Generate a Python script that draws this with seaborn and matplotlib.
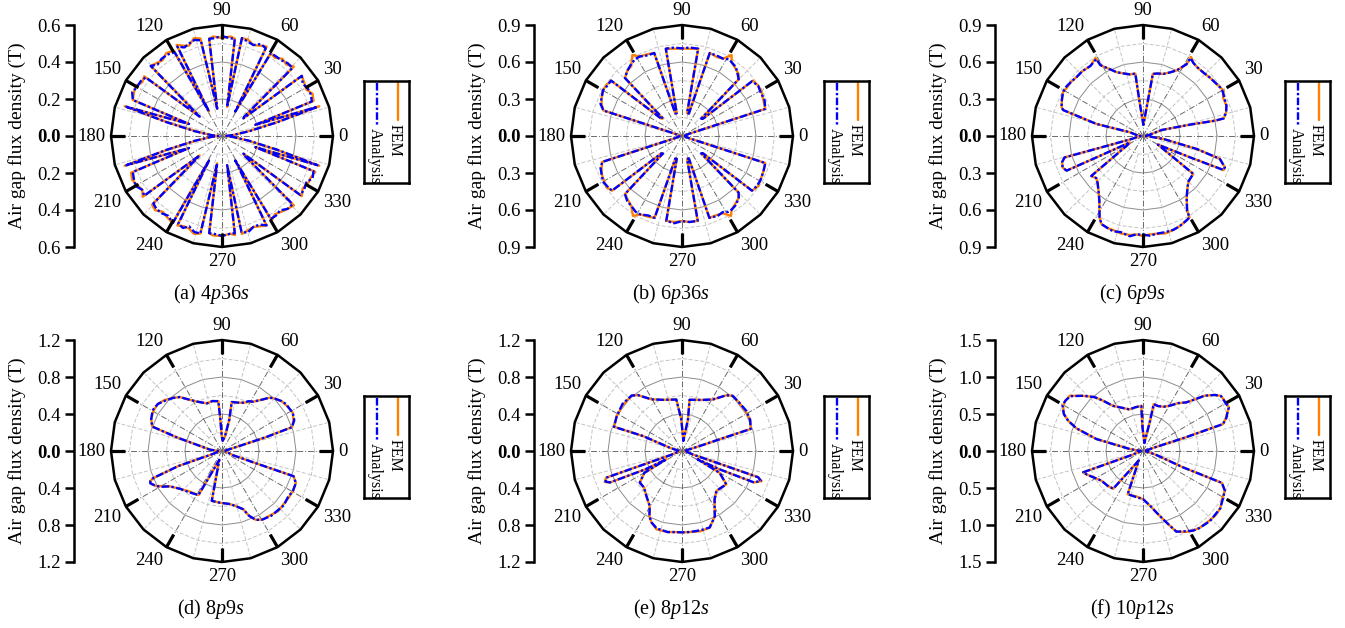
import numpy as np
import pandas as pd
import matplotlib
matplotlib.use("Agg")
import matplotlib.pyplot as plt
import seaborn as sns

sns.set_theme(style="white", rc={"axes.edgecolor": "black", "text.color": "black",
                                 "xtick.color": "black", "ytick.color": "black",
                                 "axes.labelcolor": "black"})
plt.rcParams["font.family"] = ["Liberation Serif", "DejaVu Serif"]
plt.rcParams["mathtext.fontset"] = "custom"
plt.rcParams["mathtext.rm"] = "Liberation Serif"
plt.rcParams["mathtext.it"] = "Liberation Serif:italic"

# ---- data: angle (deg) / air gap flux density (T) ----
# (a) 4p36s
theta_a = [0, 5, 10, 14, 17, 18.5, 21, 25, 29, 33, 37, 39.5, 41, 44, 48, 52, 56, 59.5, 61.5, 63.5,
           67, 71, 75, 78.5, 80, 82.5, 85, 90, 95, 97.5, 100, 102.5, 106, 110, 113, 116.5, 118, 119.5,
           124, 128, 132, 135.5, 139, 142.5, 146, 150, 154, 158, 160, 163, 166, 170, 175, 180,
           185, 190, 194, 197, 200, 202, 206, 210, 214, 217.5, 221, 224.5, 228, 232, 236, 240.5, 242,
           243.5, 247, 250, 254, 257.5, 260, 262.5, 265, 270, 275, 277.5, 280, 281.5, 285, 289, 293,
           296.5, 298.5, 300.5, 304, 308, 312, 316, 319, 320.5, 323, 327, 331, 335, 339, 341.5, 343,
           346, 350, 355, 360]
fem_a = [0.02, 0.06, 0.14, 0.30, 0.55, 0.19, 0.53, 0.54, 0.52, 0.53, 0.54, 0.15, 0.16, 0.54, 0.52, 0.53,
         0.51, 0.52, 0.15, 0.54, 0.53, 0.52, 0.54, 0.54, 0.16, 0.53, 0.54, 0.53, 0.54, 0.53, 0.15, 0.54,
         0.55, 0.52, 0.53, 0.55, 0.15, 0.53, 0.54, 0.52, 0.53, 0.54, 0.16, 0.53, 0.52, 0.54, 0.53, 0.52,
         0.19, 0.55, 0.30, 0.14, 0.06, 0.02,
         0.06, 0.14, 0.30, 0.55, 0.19, 0.53, 0.54, 0.53, 0.52, 0.54, 0.16, 0.53, 0.54, 0.52, 0.53, 0.54,
         0.15, 0.54, 0.53, 0.53, 0.55, 0.54, 0.15, 0.53, 0.54, 0.54, 0.53, 0.54, 0.16, 0.54, 0.53, 0.52,
         0.53, 0.54, 0.15, 0.53, 0.51, 0.52, 0.53, 0.54, 0.16, 0.15, 0.54, 0.52, 0.53, 0.53, 0.54, 0.19,
         0.55, 0.30, 0.14, 0.06, 0.02]
ana_a = [0.02, 0.06, 0.15, 0.31, 0.54, 0.19, 0.52, 0.53, 0.53, 0.52, 0.54, 0.15, 0.16, 0.53, 0.53, 0.52,
         0.52, 0.52, 0.15, 0.53, 0.54, 0.52, 0.53, 0.54, 0.16, 0.53, 0.53, 0.54, 0.53, 0.53, 0.15, 0.53,
         0.54, 0.53, 0.52, 0.54, 0.15, 0.52, 0.53, 0.53, 0.52, 0.54, 0.16, 0.52, 0.53, 0.53, 0.54, 0.52,
         0.19, 0.54, 0.31, 0.15, 0.06, 0.02,
         0.06, 0.15, 0.31, 0.54, 0.19, 0.52, 0.53, 0.54, 0.52, 0.53, 0.16, 0.52, 0.53, 0.53, 0.52, 0.54,
         0.15, 0.53, 0.54, 0.52, 0.54, 0.54, 0.15, 0.53, 0.53, 0.54, 0.53, 0.53, 0.16, 0.53, 0.54, 0.52,
         0.52, 0.54, 0.15, 0.52, 0.52, 0.51, 0.53, 0.53, 0.16, 0.15, 0.53, 0.53, 0.52, 0.54, 0.53, 0.19,
         0.54, 0.31, 0.15, 0.06, 0.02]

# (b) 6p36s
theta_b = [0, 10, 17.5, 18, 23.5, 29.5, 33.5, 38, 39.5, 42, 45, 47.5, 52, 56, 58.5, 62, 66, 71.5, 73,
           77.5, 79.5, 85, 90, 95, 100.5, 103, 106.5, 108.5, 113, 118, 121.5, 126, 130, 134.5, 137.5,
           140, 142, 146, 150, 155, 158.5, 162, 162.5, 170, 180,
           190, 197.5, 198, 201.5, 205, 210, 214, 218, 220, 222.5, 225.5, 230, 234, 238.5, 242, 247,
           251.5, 253.5, 257, 259.5, 265, 270, 275, 280.5, 282.5, 287, 288.5, 294, 298, 301.5, 304,
           308, 312.5, 315, 318, 320.5, 322, 326.5, 330.5, 336.5, 342, 342.5, 350, 360]
fem_b = [0.02, 0.03, 0.06, 0.71, 0.72, 0.74, 0.74, 0.73, 0.22, 0.21, 0.65, 0.68, 0.70, 0.72, 0.77, 0.71,
         0.70, 0.71, 0.19, 0.19, 0.72, 0.71, 0.71, 0.71, 0.72, 0.19, 0.19, 0.71, 0.72, 0.73, 0.77, 0.70,
         0.69, 0.66, 0.21, 0.22, 0.73, 0.74, 0.74, 0.72, 0.70, 0.67, 0.06, 0.03, 0.02,
         0.03, 0.06, 0.68, 0.70, 0.72, 0.73, 0.74, 0.72, 0.22, 0.21, 0.66, 0.68, 0.70, 0.76, 0.72, 0.71,
         0.70, 0.19, 0.19, 0.70, 0.70, 0.69, 0.70, 0.70, 0.19, 0.19, 0.70, 0.70, 0.71, 0.76, 0.72, 0.70,
         0.68, 0.65, 0.21, 0.22, 0.72, 0.74, 0.73, 0.72, 0.71, 0.06, 0.03, 0.02]
ana_b = [0.02, 0.03, 0.06, 0.71, 0.73, 0.73, 0.74, 0.72, 0.22, 0.21, 0.65, 0.67, 0.71, 0.72, 0.73, 0.71,
         0.71, 0.71, 0.19, 0.19, 0.72, 0.72, 0.71, 0.72, 0.72, 0.19, 0.19, 0.71, 0.71, 0.73, 0.73, 0.71,
         0.69, 0.66, 0.21, 0.22, 0.73, 0.73, 0.74, 0.72, 0.71, 0.67, 0.06, 0.03, 0.02,
         0.03, 0.06, 0.68, 0.71, 0.72, 0.74, 0.73, 0.72, 0.22, 0.21, 0.66, 0.69, 0.70, 0.72, 0.72, 0.70,
         0.70, 0.19, 0.19, 0.70, 0.71, 0.69, 0.70, 0.70, 0.19, 0.19, 0.70, 0.71, 0.70, 0.72, 0.72, 0.71,
         0.68, 0.65, 0.21, 0.22, 0.72, 0.73, 0.73, 0.72, 0.71, 0.06, 0.03, 0.02]

# (c) 6p9s
theta_c = [0, 10, 17.8, 13.6, 12, 12.3, 15.8, 20, 25.7, 29.2, 32, 35.6, 41, 46.5, 52, 55.5, 58.6, 58.8,
           62.7, 67, 71.8, 77, 81, 82, 88, 96, 97, 101.8, 107, 112.5, 116, 121, 121.3, 127, 133, 138.5,
           143, 147.5, 151.3, 156, 160.6, 162, 165.5, 164, 172, 180,
           185, 194.8, 195.3, 195.3, 198, 201.5, 204.4, 204.7, 206, 210.6, 217.7, 222, 226, 230.7,
           235.8, 242, 244.8, 249, 252.6, 257, 262.5, 266, 270, 274, 278, 283, 287.8, 292, 297.3, 299.7,
           300.7, 305.5, 311, 315.4, 323, 330, 335.6, 337.1, 339.1, 343.4, 346.4, 351.6, 356, 360]
fem_c = [0.02, 0.05, 0.16, 0.39, 0.60, 0.67, 0.70, 0.72, 0.72, 0.75, 0.74, 0.73, 0.72, 0.71, 0.71, 0.72,
         0.75, 0.68, 0.60, 0.56, 0.53, 0.52, 0.51, 0.30, 0.09, 0.30, 0.51, 0.51, 0.53, 0.56, 0.60, 0.67,
         0.74, 0.71, 0.72, 0.72, 0.73, 0.73, 0.74, 0.72, 0.70, 0.68, 0.39, 0.11, 0.05, 0.02,
         0.03, 0.10, 0.39, 0.66, 0.69, 0.70, 0.68, 0.41, 0.12, 0.15, 0.53, 0.51, 0.53, 0.57, 0.63, 0.75,
         0.79, 0.80, 0.80, 0.81, 0.81, 0.80, 0.81, 0.80, 0.80, 0.81, 0.80, 0.79, 0.77, 0.76, 0.70, 0.61,
         0.55, 0.52, 0.51, 0.14, 0.42, 0.71, 0.71, 0.65, 0.45, 0.17, 0.05, 0.02]
ana_c = [0.02, 0.05, 0.16, 0.39, 0.60, 0.67, 0.70, 0.72, 0.73, 0.74, 0.74, 0.73, 0.72, 0.71, 0.71, 0.72,
         0.74, 0.68, 0.60, 0.56, 0.53, 0.52, 0.51, 0.30, 0.09, 0.30, 0.51, 0.51, 0.53, 0.56, 0.60, 0.67,
         0.73, 0.71, 0.72, 0.72, 0.73, 0.74, 0.74, 0.72, 0.70, 0.68, 0.39, 0.11, 0.05, 0.02,
         0.03, 0.10, 0.39, 0.66, 0.69, 0.70, 0.68, 0.41, 0.12, 0.15, 0.53, 0.51, 0.53, 0.57, 0.63, 0.75,
         0.79, 0.80, 0.81, 0.80, 0.82, 0.80, 0.80, 0.81, 0.80, 0.80, 0.80, 0.79, 0.77, 0.76, 0.70, 0.61,
         0.55, 0.52, 0.51, 0.14, 0.42, 0.71, 0.71, 0.65, 0.45, 0.17, 0.05, 0.02]

# (d) 8p9s
theta_d = [0, 10, 16.5, 17.5, 18.8, 23.2, 28.5, 32.7, 36, 39.9, 45.5, 48.4, 52.3, 57.8, 62, 66.3, 72,
           78.8, 77, 78.4, 86.4, 91, 93, 94.2, 101, 107.7, 117, 124.2, 128, 132.6, 138.4, 143.7, 149.6,
           155.6, 160.7, 163.2, 173.7, 180,
           185, 198, 199, 201.5, 202.8, 204.2, 207.8, 211, 214.2, 222.1, 231.6, 241.9, 253, 258.4,
           267.8, 278.6, 284.8, 290, 292.7, 296.2, 300.4, 307.2, 313.1, 318.6, 325, 330.7, 336.6,
           340.6, 340.2, 339, 350, 360]
fem_d = [0.03, 0.05, 0.24, 0.50, 0.80, 0.84, 0.87, 0.86, 0.85, 0.84, 0.80, 0.77, 0.70, 0.63, 0.60, 0.57,
         0.55, 0.54, 0.35, 0.16, 0.11, 0.16, 0.34, 0.54, 0.55, 0.54, 0.60, 0.68, 0.74, 0.78, 0.83, 0.86,
         0.86, 0.84, 0.80, 0.51, 0.13, 0.03,
         0.03, 0.10, 0.50, 0.80, 0.84, 0.85, 0.81, 0.74, 0.68, 0.61, 0.56, 0.54, 0.10, 0.55, 0.56, 0.58,
         0.62, 0.67, 0.76, 0.83, 0.86, 0.87, 0.89, 0.88, 0.88, 0.88, 0.87, 0.82, 0.44, 0.13, 0.05, 0.03]
ana_d = [0.03, 0.05, 0.24, 0.50, 0.80, 0.85, 0.87, 0.86, 0.86, 0.84, 0.80, 0.77, 0.70, 0.63, 0.61, 0.57,
         0.55, 0.54, 0.35, 0.16, 0.11, 0.16, 0.34, 0.54, 0.55, 0.54, 0.60, 0.68, 0.74, 0.78, 0.82, 0.86,
         0.87, 0.84, 0.80, 0.51, 0.13, 0.03,
         0.03, 0.10, 0.50, 0.80, 0.84, 0.85, 0.81, 0.75, 0.68, 0.61, 0.57, 0.54, 0.10, 0.55, 0.56, 0.58,
         0.62, 0.67, 0.76, 0.83, 0.86, 0.88, 0.88, 0.89, 0.87, 0.88, 0.87, 0.82, 0.44, 0.13, 0.05, 0.03]

# (e) 8p12s
theta_e = [0, 10, 15.8, 17.5, 17.8, 24.5, 31.9, 40, 47.5, 51.5, 59, 69.2, 81.6, 79.3, 82.4, 91.2, 96.3,
           110.4, 120.7, 128.3, 132.3, 141.7, 151.9, 160.4, 159, 164.9, 172, 180,
           185, 195, 199.5, 199.4, 199.4, 201.8, 203.6, 206.5, 208, 210.1, 216.8, 224, 231.6, 239.6,
           243.5, 246.9, 251.9, 260, 265, 270.7, 276, 283, 289.9, 296.7, 299.3, 304, 310.7, 317, 323,
           329.9, 332, 334, 336.4, 339.3, 341, 341.2, 342, 352, 360]
fem_e = [0.03, 0.05, 0.20, 0.50, 0.78, 0.81, 0.81, 0.81, 0.81, 0.77, 0.65, 0.59, 0.56, 0.35, 0.11, 0.34,
         0.56, 0.59, 0.65, 0.77, 0.81, 0.81, 0.80, 0.78, 0.45, 0.14, 0.05, 0.03,
         0.03, 0.06, 0.12, 0.50, 0.87, 0.90, 0.85, 0.45, 0.19, 0.47, 0.57, 0.57, 0.62, 0.69, 0.79, 0.84,
         0.89, 0.89, 0.88, 0.88, 0.88, 0.89, 0.88, 0.79, 0.72, 0.63, 0.57, 0.58, 0.60, 0.47, 0.19, 0.45,
         0.85, 0.92, 0.87, 0.50, 0.12, 0.05, 0.03]
ana_e = [0.03, 0.05, 0.20, 0.50, 0.78, 0.81, 0.82, 0.81, 0.81, 0.77, 0.65, 0.59, 0.56, 0.35, 0.11, 0.34,
         0.56, 0.59, 0.65, 0.77, 0.81, 0.82, 0.80, 0.78, 0.45, 0.14, 0.05, 0.03,
         0.03, 0.06, 0.12, 0.50, 0.87, 0.89, 0.85, 0.45, 0.19, 0.47, 0.57, 0.57, 0.62, 0.69, 0.79, 0.84,
         0.88, 0.89, 0.88, 0.88, 0.88, 0.88, 0.88, 0.79, 0.72, 0.63, 0.57, 0.58, 0.60, 0.47, 0.19, 0.45,
         0.85, 0.91, 0.87, 0.50, 0.12, 0.05, 0.03]

# (f) 10p12s
theta_f = [0, 10, 17, 17.7, 18.6, 21.5, 25.4, 26.9, 30.3, 35.2, 38, 41.9, 44.3, 48.3, 53.9, 59.5, 65,
           71.7, 77.1, 76.9, 80.5, 91.5, 92.1, 100, 107.9, 118.1, 123.5, 128.5, 132, 137.3, 143, 147,
           150.5, 155, 158, 161.2, 165.6, 171.5, 180,
           185, 192, 199.6, 199.6, 199.6, 203, 207.8, 215.5, 224.7, 231.7, 246, 250.5, 255, 261.6, 270,
           277, 282.3, 286.4, 289.7, 292.5, 298.2, 302.1, 306.2, 313.7, 318.6, 323.5, 328.8, 334.1,
           338, 337.8, 343.3, 352, 360]
fem_f = [0.03, 0.05, 0.15, 0.59, 1.14, 1.20, 1.27, 1.30, 1.30, 1.29, 1.23, 1.12, 1.01, 0.88, 0.80, 0.71,
         0.66, 0.64, 0.65, 0.40, 0.11, 0.34, 0.61, 0.60, 0.59, 0.67, 0.73, 0.87, 0.98, 1.10, 1.24, 1.25,
         1.24, 1.18, 1.09, 0.95, 0.65, 0.18, 0.03,
         0.03, 0.06, 0.15, 0.50, 0.86, 0.82, 0.76, 0.69, 0.67, 0.65, 0.14, 0.62, 0.62, 0.62, 0.65, 0.74,
         0.85, 0.96, 1.07, 1.18, 1.24, 1.27, 1.29, 1.30, 1.31, 1.30, 1.25, 1.23, 1.15, 0.58, 0.19, 0.06,
         0.03]
ana_f = [0.03, 0.05, 0.15, 0.59, 1.14, 1.21, 1.27, 1.30, 1.29, 1.29, 1.23, 1.12, 1.01, 0.88, 0.80, 0.71,
         0.66, 0.64, 0.65, 0.40, 0.11, 0.34, 0.61, 0.60, 0.59, 0.67, 0.73, 0.87, 0.98, 1.10, 1.23, 1.25,
         1.25, 1.18, 1.09, 0.95, 0.65, 0.18, 0.03,
         0.03, 0.06, 0.15, 0.50, 0.86, 0.82, 0.76, 0.69, 0.67, 0.65, 0.14, 0.62, 0.62, 0.63, 0.65, 0.74,
         0.85, 0.96, 1.07, 1.18, 1.23, 1.27, 1.29, 1.31, 1.30, 1.30, 1.26, 1.23, 1.15, 0.58, 0.19, 0.06,
         0.03]

r_limits = [0.6, 0.9, 0.9, 1.2, 1.2, 1.5]
captions = [("(a)", "4", "36"), ("(b)", "6", "36"), ("(c)", "6", "9"),
            ("(d)", "8", "9"), ("(e)", "8", "12"), ("(f)", "10", "12")]
series = [(theta_a, fem_a, ana_a), (theta_b, fem_b, ana_b), (theta_c, fem_c, ana_c),
          (theta_d, fem_d, ana_d), (theta_e, fem_e, ana_e), (theta_f, fem_f, ana_f)]

# ---- layout (pixels) ----
W, H = 1345, 628
R = 111
col_x = [222, 682, 1143]
row_y = [136, 451]
FEM_COLOR = "#ff8000"
ANA_COLOR = "#0000ff"
ANA_DASH = (3.2, 1.0, 1.0, 1.0)

fig = plt.figure(figsize=(W / 100, H / 100), dpi=100)


def draw_panel(cx, cy, rmax, theta, fem, ana, cap):
    # polar plot
    ax = fig.add_axes([(cx - R) / W, 1 - (cy + R) / H, 2 * R / W, 2 * R / H], projection="polar")
    ring = np.deg2rad(np.arange(0, 361, 15))
    for k in range(1, 6):
        if k % 2 == 0:
            ax.plot(ring, np.full(ring.size, rmax * k / 6), color="#8c8c8c", lw=0.7, zorder=1)
        else:
            ax.plot(ring, np.full(ring.size, rmax * k / 6), color="#c4c4c4", lw=0.7,
                    ls=(0, (4, 2)), zorder=1)
    for a in range(0, 360, 15):
        t = np.deg2rad(a)
        if a % 30 == 0:
            ax.plot([t, t], [0, rmax], color="#6a6a6a", lw=0.7, ls=(0, (6, 2, 1, 2)), zorder=1)
        else:
            ax.plot([t, t], [rmax / 6, rmax], color="#c4c4c4", lw=0.7, ls=(0, (4, 2)), zorder=1)

    n = len(theta)
    df = pd.DataFrame({"theta": np.deg2rad(np.r_[theta, theta]),
                       "B": np.r_[fem, ana],
                       "Method": ["FEM"] * n + ["Analysis"] * n})
    sns.lineplot(data=df, x="theta", y="B", hue="Method", style="Method",
                 hue_order=["FEM", "Analysis"], style_order=["FEM", "Analysis"],
                 palette={"FEM": FEM_COLOR, "Analysis": ANA_COLOR},
                 dashes={"FEM": "", "Analysis": ANA_DASH},
                 sort=False, estimator=None, legend=False, linewidth=1.7, ax=ax, zorder=3)

    ax.plot(ring, np.full(ring.size, rmax), color="black", lw=1.8, clip_on=False, zorder=4)
    for a in range(0, 360, 30):
        t = np.deg2rad(a)
        ax.plot([t, t], [0.87 * rmax, rmax], color="black", lw=2.3, solid_capstyle="butt",
                clip_on=False, zorder=4)
        c, s = np.cos(t), np.sin(t)
        ha = "left" if c > 0.3 else ("right" if c < -0.3 else "center")
        va = "bottom" if s > 0.3 else ("top" if s < -0.3 else "center")
        ax.text(t, 1.05 * rmax, str(a), ha=ha, va=va, fontsize=13.5)
    ax.set_ylim(0, rmax)
    ax.grid(False)
    ax.set_xticks([])
    ax.set_yticks([])
    ax.spines["polar"].set_visible(False)
    ax.set_xlabel("")
    ax.set_ylabel("")

    # left linear scale
    lax = fig.add_axes([(cx - 148) / W, 1 - (cy + R) / H, 0.5 / W, 2 * R / H])
    lax.set_ylim(-rmax, rmax)
    ticks = np.linspace(-rmax, rmax, 7)
    lax.set_yticks(ticks)
    lax.set_yticklabels([f"{abs(v):.1f}" for v in ticks])
    lax.get_yticklabels()[3].set_fontweight("bold")
    for side in ["top", "right", "bottom"]:
        lax.spines[side].set_visible(False)
    lax.spines["left"].set_linewidth(1.8)
    lax.set_xticks([])
    lax.tick_params(axis="y", left=True, direction="out", length=6.5, width=1.8,
                    labelsize=13.5, pad=3)
    lax.patch.set_alpha(0)
    fig.text((cx - 205) / W, 1 - cy / H, "Air gap flux density (T)", rotation=90,
             ha="center", va="center", fontsize=14)

    # legend box (rotated)
    lg = fig.add_axes([(cx + 142) / W, 1 - (cy + 47) / H, 45 / W, 102 / H])
    lg.set_xlim(0, 1)
    lg.set_ylim(0, 1)
    lg.set_xticks([])
    lg.set_yticks([])
    for sp in lg.spines.values():
        sp.set_linewidth(1.8)
        sp.set_color("black")
    lg.plot([0.76, 0.76], [0.98, 0.62], color=FEM_COLOR, lw=1.7)
    lg.plot([0.29, 0.29], [0.98, 0.57], color=ANA_COLOR, lw=1.7, ls=(0, ANA_DASH))
    lg.text(0.69, 0.58, "FEM", rotation=-90, ha="center", va="top", fontsize=11.5)
    lg.text(0.25, 0.535, "Analysis", rotation=-90, ha="center", va="top", fontsize=11.5,
            clip_on=True)

    tag, p, s = cap
    fig.text((cx - 11) / W, 1 - (cy + 158) / H, f"{tag} {p}$\\mathit{{p}}${s}$\\mathit{{s}}$",
             ha="center", va="center", fontsize=14.5)


for i in range(6):
    cx = col_x[i % 3]
    cy = row_y[i // 3]
    th, fe, an = series[i]
    draw_panel(cx, cy, r_limits[i], th, fe, an, captions[i])

fig.savefig("out.png", dpi=100, facecolor="white")
